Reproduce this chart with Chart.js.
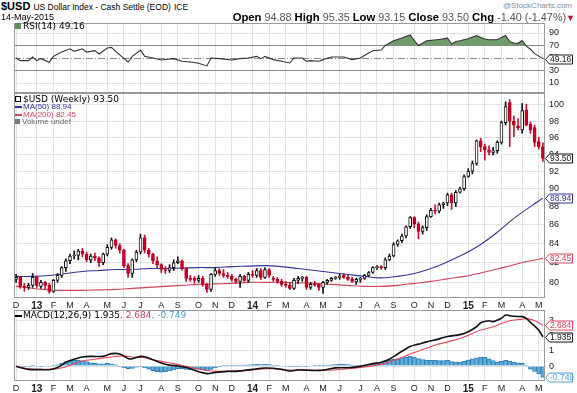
<!DOCTYPE html>
<html>
<head>
<meta charset="utf-8">
<title>$USD Weekly</title>
<script src="https://cdn.jsdelivr.net/npm/chart.js@4.4.1/dist/chart.umd.min.js"></script>
<style>
  body { margin: 0; background: #fff; font-family: "Liberation Sans", Arial, sans-serif; }
  #wrap { position: relative; width: 577px; height: 393px; overflow: hidden; background: #fff; }
  canvas { position: absolute; left: 0; }
  .txt { position: absolute; white-space: nowrap; line-height: 1; color: #000; }
  .leg { font-family: "DejaVu Sans", Verdana, sans-serif; font-size: 9px; }
  .ma { font-size: 8px; }
  .dash { display: inline-block; width: 7px; height: 2px; vertical-align: middle; margin-right: 1px; }
  .ico { display: inline-block; width: 6px; height: 6px; margin-right: 2px; vertical-align: 0; }
  .hd b { color: #000; font-size: 11.3px; }
</style>
</head>
<body>
<div id="wrap">
  <canvas id="rsi" width="577" height="73" style="top:20px"></canvas>
  <canvas id="price" width="577" height="217" style="top:93px"></canvas>
  <canvas id="macd" width="577" height="83" style="top:310px"></canvas>

  <div class="txt" style="left:1px;top:1px;font-size:11px;"><b>$USD</b> <span style="font-size:8.5px">US Dollar Index - Cash Settle (EOD)</span> <span style="font-size:8.5px">ICE</span></div>
  <div class="txt" style="left:1px;top:13px;font-size:9px;">14-May-2015</div>
  <div class="txt" style="right:5px;top:2px;font-size:8px;color:#8a8a8a;">@StockCharts.com</div>
  <div class="txt hd" style="right:2px;top:12px;font-size:10.8px;color:#555;"><b>Open</b> 94.88 <b>High</b> 95.35 <b>Low</b> 93.15 <b>Close</b> 93.50 <b>Chg</b> -1.40 (-1.47%)<span style="color:#c8102e;font-size:9px">&#9660;</span></div>

  <div class="txt leg" style="left:15px;top:22px;"><span class="ico" style="background:#5e8f5b;"></span>RSI(14) 49.16</div>

  <div class="txt leg" style="left:15px;top:95px;"><span class="ico" style="border:1px solid #000;width:4px;height:4px;"></span>$USD (Weekly) 93.50</div>
  <div class="txt ma" style="left:15px;top:103px;color:#34349a;"><span class="dash" style="background:#34349a"></span>MA(50) 88.94</div>
  <div class="txt ma" style="left:15px;top:111px;color:#d2435c;"><span class="dash" style="background:#d2435c"></span>MA(200) 82.45</div>
  <div class="txt ma" style="left:15px;top:118px;color:#666;"><span class="ico" style="background:#777;width:5px;height:5px;"></span>Volume undef</div>

  <div class="txt leg" style="left:15px;top:311px;"><span class="dash" style="background:#000"></span>MACD(12,26,9) 1.935<span style="color:#e0405a">, 2.684</span><span style="color:#4a9fd0">, -0.749</span></div>
</div>

<script>
// weekly bars, each one labelled with the Monday of its week
const firstMonday = Date.UTC(2012, 11, 3);
const weekCount = 128;
const weeks = [];
for (let i = 0; i < weekCount; i++) {
    weeks.push(new Date(firstMonday + i * 7 * 86400000).toISOString().slice(0, 10));
}
const monthLetters = ["J", "F", "M", "A", "M", "J", "J", "A", "S", "O", "N", "D"];

const priceTicks = [80, 82, 84, 86, 88, 90, 92, 94, 96, 98, 100];
const rsiTicks = [10, 30, 50, 70, 90];
const macdTicks = [0, 1, 2, 3];

const opens = [
    80.3, 80.5, 79.6, 79.5, 79.7, 80.5, 79.6, 80.0, 79.7, 79.1,
    80.2, 80.7, 81.5, 82.2, 82.7, 82.75, 83.2, 82.9, 82.3, 82.7,
    82.5, 82.0, 82.9, 83.6, 84.4, 83.8, 83.3, 81.7, 80.9, 82.3,
    83.1, 84.6, 83.3, 82.9, 82.2, 81.8, 81.3, 81.2, 81.5, 82.0,
    82.2, 81.4, 80.4, 80.4, 80.2, 80.4, 79.8, 79.3, 80.8, 81.2,
    80.9, 80.7, 80.6, 80.3, 80.1, 80.6, 80.2, 80.8, 80.7, 81.2,
    80.5, 81.3, 80.35, 80.3, 80.1, 79.8, 79.7, 79.4, 80.2, 80.4,
    80.5, 79.5, 79.8, 79.8, 79.5, 80.0, 80.2, 80.4, 80.5, 80.7,
    80.5, 80.3, 80.05, 80.3, 80.4, 80.7, 81.0, 81.5, 81.55, 81.5,
    82.3, 82.7, 83.9, 84.3, 84.8, 85.8, 86.8, 86.1, 85.3, 85.7,
    86.9, 87.6, 87.5, 88.2, 88.4, 89.3, 88.4, 89.6, 90.0, 91.4,
    92.0, 92.9, 95.6, 94.9, 94.5, 94.2, 94.4, 95.4, 97.8, 100.3,
    98.0, 97.4, 96.9, 99.4, 97.6, 97.2, 95.5, 94.88
];
const highs = [
    80.8, 80.6, 79.9, 79.9, 80.9, 80.6, 80.2, 80.1, 79.9, 80.3,
    80.9, 81.6, 82.4, 82.9, 83.2, 83.4, 83.5, 83.1, 82.9, 83.0,
    82.6, 83.0, 83.9, 84.6, 84.5, 84.0, 83.4, 81.9, 82.4, 83.3,
    85.0, 84.9, 83.5, 83.0, 82.6, 81.9, 81.6, 81.8, 82.3, 82.6,
    82.3, 81.5, 80.7, 80.6, 80.7, 80.6, 79.9, 80.9, 81.5, 81.4,
    81.3, 81.0, 80.8, 80.4, 80.8, 80.7, 81.0, 81.2, 81.4, 81.4,
    81.5, 81.4, 80.6, 80.5, 80.3, 80.1, 79.9, 80.4, 80.6, 80.6,
    80.6, 80.0, 80.1, 79.9, 80.1, 80.3, 80.5, 80.6, 80.8, 80.9,
    80.7, 80.5, 80.4, 80.5, 80.8, 81.1, 81.6, 81.7, 81.7, 82.5,
    82.9, 84.1, 84.4, 85.0, 85.9, 86.9, 86.9, 86.3, 85.9, 87.1,
    87.8, 88.2, 88.4, 88.5, 89.5, 89.5, 89.8, 90.2, 91.6, 92.3,
    93.2, 95.7, 95.9, 95.2, 95.0, 94.8, 95.6, 98.0, 100.4, 100.7,
    98.6, 98.3, 100.2, 100.1, 97.9, 97.5, 96.0, 95.35
];
const lows = [
    80.0, 79.4, 79.1, 79.3, 79.5, 79.5, 79.4, 79.3, 78.9, 79.0,
    80.0, 80.5, 81.1, 81.9, 82.4, 82.3, 82.6, 82.1, 82.0, 82.2,
    81.6, 81.8, 82.7, 83.4, 83.5, 83.0, 81.5, 80.5, 80.5, 82.1,
    82.9, 83.0, 82.6, 81.9, 81.5, 81.0, 80.9, 81.0, 81.2, 81.9,
    81.2, 80.1, 80.1, 79.9, 80.0, 79.6, 79.0, 79.1, 80.6, 80.7,
    80.5, 80.4, 80.1, 79.9, 79.5, 80.1, 80.0, 80.5, 80.5, 80.3,
    80.4, 80.5, 80.1, 79.9, 79.6, 79.5, 79.3, 79.3, 79.9, 80.1,
    79.3, 79.3, 79.6, 79.2, 78.9, 79.8, 80.1, 80.3, 80.3, 80.4,
    80.2, 80.0, 79.8, 80.0, 80.3, 80.6, 80.9, 81.3, 81.3, 81.3,
    82.2, 82.6, 83.7, 84.1, 84.6, 85.6, 85.7, 84.5, 85.0, 85.4,
    86.8, 87.2, 87.3, 87.8, 88.1, 87.7, 88.0, 89.5, 89.8, 91.3,
    91.7, 92.7, 94.3, 93.3, 93.9, 93.9, 94.1, 95.2, 97.5, 94.9,
    96.1, 96.9, 96.5, 97.4, 96.5, 94.9, 94.6, 93.15
];
const closes = [
    80.5, 79.6, 79.5, 79.7, 80.5, 79.7, 80.0, 79.7, 79.1, 80.2,
    80.7, 81.5, 82.2, 82.7, 82.75, 83.2, 82.9, 82.3, 82.7, 82.5,
    82.0, 82.9, 83.6, 84.4, 83.8, 83.3, 81.7, 80.9, 82.3, 83.1,
    84.6, 83.3, 82.9, 82.2, 81.8, 81.3, 81.2, 81.5, 82.0, 82.2,
    81.4, 80.4, 80.3, 80.2, 80.4, 79.8, 79.3, 80.8, 81.2, 80.9,
    80.7, 80.6, 80.3, 80.1, 80.6, 80.2, 80.8, 80.7, 81.2, 80.5,
    81.3, 80.7, 80.3, 80.1, 79.8, 79.7, 79.4, 80.2, 80.4, 80.5,
    79.5, 79.8, 79.75, 79.5, 80.0, 80.2, 80.4, 80.5, 80.6, 80.5,
    80.3, 80.1, 80.3, 80.4, 80.7, 81.0, 81.5, 81.55, 81.5, 82.3,
    82.7, 83.9, 84.3, 84.8, 85.8, 86.8, 86.1, 85.3, 85.7, 86.9,
    87.6, 87.5, 88.2, 88.4, 89.3, 88.4, 89.6, 90.0, 91.4, 92.0,
    92.9, 95.6, 94.9, 94.5, 94.2, 94.4, 95.4, 97.8, 99.8, 98.0,
    97.5, 97.2, 99.3, 97.5, 96.9, 95.4, 94.9, 93.5
];

// moving averages read every 4 weeks
const maWeeks = [0, 4, 8, 12, 16, 20, 24, 28, 32, 36, 40, 44, 48, 52, 56, 60, 64, 68, 72, 76, 80, 84, 88, 92, 96, 100, 104, 108, 112, 116, 120, 124, 127];
const ma50 = [80.6, 80.6, 80.7, 80.9, 81.1, 81.2, 81.3, 81.3, 81.4, 81.4, 81.45, 81.5, 81.5, 81.6, 81.65, 81.7, 81.6, 81.4, 81.2, 81.0, 80.8, 80.6, 80.45, 80.6, 80.9, 81.4, 82.1, 82.9, 83.9, 85.2, 86.7, 88.0, 88.94];
const ma200 = [79.6, 79.4, 79.25, 79.2, 79.2, 79.25, 79.3, 79.4, 79.5, 79.6, 79.7, 79.8, 79.85, 79.9, 80.0, 80.0, 80.0, 79.95, 79.9, 79.8, 79.7, 79.6, 79.6, 79.7, 79.9, 80.1, 80.35, 80.6, 80.95, 81.35, 81.8, 82.2, 82.45];

const rsiWeeks = [0, 1, 3, 4, 5, 6, 8, 9, 11, 13, 14, 16, 17, 19, 20, 22, 23, 24, 27, 28, 30, 31, 33, 35, 38, 40, 42, 44, 46, 47, 49, 52, 54, 56, 58, 59, 60, 62, 64, 66, 67, 69, 70, 71, 73, 74, 76, 79, 81, 83, 85, 86, 88, 89, 91, 93, 95, 96, 97, 99, 102, 104, 105, 106, 107, 109, 111, 112, 113, 114, 116, 117, 118, 119, 120, 121, 122, 123, 124, 125, 126, 127];
const rsiValues = [50, 45.8, 45.8, 51.6, 45.8, 49, 43, 52.6, 59.5, 64.8, 60.6, 64.8, 59.5, 61.7, 56.4, 65.9, 67, 60.6, 43.6, 52.6, 62.2, 52.6, 50, 46.8, 49, 44.7, 43.6, 41.5, 37.3, 50, 49, 46.8, 49, 50, 52.6, 49, 52.6, 47.4, 44.7, 42, 50, 50, 44.7, 45.8, 44.7, 47.4, 51.6, 51.6, 47.4, 50, 58, 61.7, 62.7, 70, 77.6, 82, 87, 78, 70, 77.6, 79.7, 81.8, 72.3, 76.5, 77.5, 80.7, 86, 82.9, 80.5, 79.2, 79.2, 83, 86, 76, 74, 73.5, 78, 69, 64, 57, 53, 49.16];

const macdWeeks = [0, 1, 3, 6, 8, 10, 12, 14, 16, 18, 21, 23, 25, 27, 28, 30, 31, 33, 35, 37, 39, 41, 43, 46, 48, 51, 53, 55, 57, 60, 62, 64, 66, 68, 72, 74, 77, 80, 83, 86, 88, 90, 92, 95, 97, 99, 102, 104, 107, 109, 111, 112, 114, 115, 117, 118, 119, 121, 122, 123, 124, 125, 126, 127];
const macdValues = [-0.02, -0.1, -0.22, -0.24, -0.24, -0.1, 0.25, 0.45, 0.6, 0.64, 0.64, 0.82, 0.8, 0.5, 0.48, 0.64, 0.62, 0.42, 0.2, 0.06, 0.0, -0.1, -0.28, -0.5, -0.42, -0.35, -0.35, -0.29, -0.22, -0.13, -0.15, -0.22, -0.33, -0.26, -0.29, -0.27, -0.12, -0.11, -0.02, 0.16, 0.25, 0.45, 0.8, 1.3, 1.45, 1.6, 1.8, 1.96, 2.08, 2.27, 2.6, 2.87, 3.0, 2.94, 3.16, 3.38, 3.33, 3.28, 3.27, 3.16, 2.89, 2.65, 2.37, 1.935];
const signalWeeks = [0, 3, 8, 10, 13, 15, 18, 20, 23, 26, 28, 31, 33, 35, 38, 41, 44, 47, 49, 52, 56, 58, 61, 63, 66, 69, 74, 80, 85, 88, 90, 93, 95, 98, 101, 104, 107, 110, 112, 115, 117, 119, 121, 122, 123, 124, 125, 126, 127];
const signalValues = [-0.02, -0.18, -0.22, -0.18, 0.04, 0.27, 0.42, 0.49, 0.6, 0.67, 0.6, 0.55, 0.42, 0.31, 0.16, -0.02, -0.2, -0.33, -0.35, -0.33, -0.29, -0.22, -0.18, -0.2, -0.27, -0.24, -0.29, -0.18, -0.02, 0.11, 0.27, 0.56, 0.8, 1.09, 1.38, 1.6, 1.82, 2.16, 2.38, 2.6, 2.82, 3.0, 3.08, 3.1, 3.14, 3.09, 3.0, 2.871, 2.684];
const histValues = [
    -0.03, 0.0, -0.05, -0.04, 0.02, -0.03, -0.02, 0.0, -0.03, 0.02,
    0.08, 0.2, 0.3, 0.35, 0.38, 0.38, 0.35, 0.3, 0.22, 0.18,
    0.15, 0.15, 0.18, 0.15, 0.08, -0.02, -0.1, -0.18, -0.15, -0.08,
    -0.02, -0.1, -0.2, -0.3, -0.38, -0.4, -0.38, -0.32, -0.25, -0.18,
    -0.18, -0.22, -0.25, -0.22, -0.2, -0.25, -0.3, -0.22, -0.1, -0.02,
    0.03, 0.04, 0.03, 0.02, 0.05, 0.06, 0.08, 0.1, 0.12, 0.1,
    0.12, 0.1, 0.06, 0.03, 0.0, -0.03, -0.06, -0.05, -0.04, -0.03,
    -0.02, 0.0, 0.02, 0.03, 0.05, 0.07, 0.08, 0.1, 0.12, 0.12,
    0.1, 0.06, 0.04, 0.05, 0.08, 0.1, 0.12, 0.18, 0.25, 0.32,
    0.38, 0.45, 0.5, 0.55, 0.6, 0.64, 0.6, 0.5, 0.42, 0.4,
    0.38, 0.38, 0.36, 0.36, 0.38, 0.3, 0.27, 0.27, 0.32, 0.4,
    0.47, 0.55, 0.6, 0.57, 0.47, 0.36, 0.27, 0.32, 0.38, 0.32,
    0.25, 0.22, 0.18, 0.02, -0.2, -0.35, -0.5, -0.749
];

const last = arr => arr[arr.length - 1];
const points = (idx, vals) => idx.map((w, k) => ({ x: weeks[w], y: vals[k] }));

// month letter on the first week of each month, 2-digit year in January
function tickText(i) {
    if (i == null || !weeks[i]) return "";
    const m = weeks[i].slice(5, 7);
    if (i > 0 && weeks[i - 1].slice(5, 7) === m) return "";
    return m === "01" ? weeks[i].slice(2, 4) : monthLetters[+m - 1];
}

function xAxis(showLabels) {
    return {
        type: "category",
        offset: true,
        grid: {
            offset: false,
            drawTicks: false,
            lineWidth: 1,
            color: ctx => tickText(ctx.index) ? "#e3e3e3" : "rgba(0,0,0,0)"
        },
        border: { display: false },
        ticks: {
            display: showLabels,
            autoSkip: false,
            maxRotation: 0,
            padding: 2,
            color: "#222",
            font: ctx => {
                const t = tickText(ctx.index);
                return /\d/.test(t)
                    ? { family: "Liberation Sans", size: 10, weight: "bold" }
                    : { family: "Liberation Sans", size: 9 };
            },
            callback: (v, i) => tickText(i)
        },
        afterFit: s => {
            s.height = showLabels ? 12 : 0;
            s.paddingLeft = 0;
            s.paddingRight = 0;
        }
    };
}

function yAxis(type, min, max, tickValues, gridColor) {
    return {
        type: type,
        position: "right",
        bounds: "data",
        min: min,
        max: max,
        grid: { drawTicks: false, color: gridColor || "#e3e3e3" },
        border: { display: false },
        ticks: {
            padding: 4,
            color: "#222",
            autoSkip: false,
            font: { family: "Liberation Sans", size: 9 },
            callback: v => String(v)
        },
        afterBuildTicks: s => { s.ticks = tickValues.map(v => ({ value: v })); },
        afterFit: s => {
            s.width = 32;
            s.paddingTop = 0;
            s.paddingBottom = 0;
        }
    };
}

// panel frame, reference lines and the value tags on the right edge
const panelPlugin = {
    id: "panel",
    beforeDatasetsDraw(chart, args, opts) {
        const a = chart.chartArea, ctx = chart.ctx, y = chart.scales.y;
        ctx.save();
        (opts.refs || []).forEach(r => {
            const py = Math.round(y.getPixelForValue(r.value)) + 0.5;
            ctx.strokeStyle = r.color;
            ctx.lineWidth = 1;
            ctx.setLineDash(r.dash || []);
            ctx.beginPath();
            ctx.moveTo(a.left, py);
            ctx.lineTo(a.right, py);
            ctx.stroke();
        });
        ctx.restore();
    },
    afterDraw(chart, args, opts) {
        const a = chart.chartArea, ctx = chart.ctx, y = chart.scales.y;
        ctx.save();
        ctx.strokeStyle = "#9a9a9a";
        ctx.lineWidth = 1;
        ctx.strokeRect(a.left + 0.5, a.top + 0.5, a.right - a.left - 1, a.bottom - a.top - 1);
        (opts.boxes || []).forEach(b => {
            const py = Math.round(y.getPixelForValue(b.value)) + 0.5;
            const x = a.right;
            ctx.beginPath();
            ctx.moveTo(x + 0.5, py);
            ctx.lineTo(x + 4.5, py - 4.5);
            ctx.lineTo(x + 27.5, py - 4.5);
            ctx.lineTo(x + 27.5, py + 4.5);
            ctx.lineTo(x + 4.5, py + 4.5);
            ctx.closePath();
            ctx.fillStyle = "#fff";
            ctx.fill();
            ctx.strokeStyle = b.color;
            ctx.stroke();
            ctx.fillStyle = b.color;
            ctx.font = "8.5px 'Liberation Sans'";
            ctx.textBaseline = "middle";
            ctx.fillText(b.text, x + 5, py + 0.5);
        });
        ctx.restore();
    }
};

const baseOptions = (padTop, xLabels, yScale, panelOpts) => ({
    responsive: false,
    animation: false,
    events: [],
    layout: { padding: { left: 14, top: padTop, right: 0, bottom: 0 }, autoPadding: false },
    plugins: { legend: { display: false }, tooltip: { enabled: false }, panel: panelOpts },
    scales: { x: xAxis(xLabels), y: yScale }
});

const isUp = i => closes[i] >= opens[i];

// RSI panel
new Chart(document.getElementById("rsi"), {
    type: "line",
    data: {
        labels: weeks,
        datasets: [{
            data: points(rsiWeeks, rsiValues),
            borderColor: "#333",
            borderWidth: 1.1,
            pointRadius: 0,
            tension: 0,
            fill: { target: { value: 70 }, above: "#6e9c6a", below: "rgba(0,0,0,0)" }
        }]
    },
    options: baseOptions(3, false,
        yAxis("linear", -6, 106, rsiTicks, ctx => {
            const v = ctx.tick && ctx.tick.value;
            if (v === 70 || v === 30) return "#8c8c8c";
            if (v === 50) return "rgba(0,0,0,0)";
            return "#e3e3e3";
        }),
        {
            refs: [{ value: 50, color: "#8c8c8c", dash: [7, 2, 1, 2] }],
            boxes: [{ value: last(rsiValues), text: last(rsiValues).toFixed(2), color: "#222" }]
        }),
    plugins: [panelPlugin]
});

// price panel: candles as floating bars, moving averages as lines
new Chart(document.getElementById("price"), {
    type: "bar",
    data: {
        labels: weeks,
        datasets: [
            {
                type: "line",
                data: points(maWeeks, ma50),
                borderColor: "#34349a",
                borderWidth: 1.1,
                pointRadius: 0,
                tension: 0.35,
                order: 3
            },
            {
                type: "line",
                data: points(maWeeks, ma200),
                borderColor: "#d2435c",
                borderWidth: 1.1,
                pointRadius: 0,
                tension: 0.35,
                order: 3
            },
            {
                data: weeks.map((w, i) => [lows[i], highs[i]]),
                barThickness: 1,
                grouped: false,
                backgroundColor: ctx => isUp(ctx.dataIndex) ? "#111" : "#c8102e",
                borderWidth: 0,
                order: 2
            },
            {
                data: weeks.map((w, i) => [opens[i], closes[i]]),
                barThickness: 3,
                grouped: false,
                minBarLength: 1,
                backgroundColor: ctx => isUp(ctx.dataIndex) ? "#fff" : "#d4002a",
                borderColor: ctx => isUp(ctx.dataIndex) ? "#111" : "#b0001f",
                borderWidth: 1,
                borderSkipped: false,
                order: 1
            }
        ]
    },
    options: baseOptions(0, true,
        yAxis("logarithmic", 78.44, 101.52, priceTicks),
        {
            boxes: [
                { value: last(closes), text: last(closes).toFixed(2), color: "#111" },
                { value: last(ma50), text: last(ma50).toFixed(2), color: "#34349a" },
                { value: last(ma200), text: last(ma200).toFixed(2), color: "#d2435c" }
            ]
        }),
    plugins: [panelPlugin]
});

// MACD panel
new Chart(document.getElementById("macd"), {
    type: "bar",
    data: {
        labels: weeks,
        datasets: [
            {
                type: "line",
                data: points(macdWeeks, macdValues),
                borderColor: "#111",
                borderWidth: 1.6,
                pointRadius: 0,
                tension: 0.3,
                order: 1
            },
            {
                type: "line",
                data: points(signalWeeks, signalValues),
                borderColor: "#e8485c",
                borderWidth: 1.1,
                pointRadius: 0,
                tension: 0.3,
                order: 2
            },
            {
                data: histValues,
                grouped: false,
                categoryPercentage: 1,
                barPercentage: 1,
                backgroundColor: "#62acdb",
                borderColor: "#2f80b8",
                borderWidth: 1,
                order: 3
            }
        ]
    },
    options: baseOptions(0, true,
        yAxis("linear", -0.99, 3.71, macdTicks),
        {
            boxes: [
                { value: last(signalValues), text: last(signalValues).toFixed(3), color: "#e0405a" },
                { value: last(macdValues), text: last(macdValues).toFixed(3), color: "#111" },
                { value: last(histValues), text: last(histValues).toFixed(3), color: "#4a9fd0" }
            ]
        }),
    plugins: [panelPlugin]
});
</script>
</body>
</html>
